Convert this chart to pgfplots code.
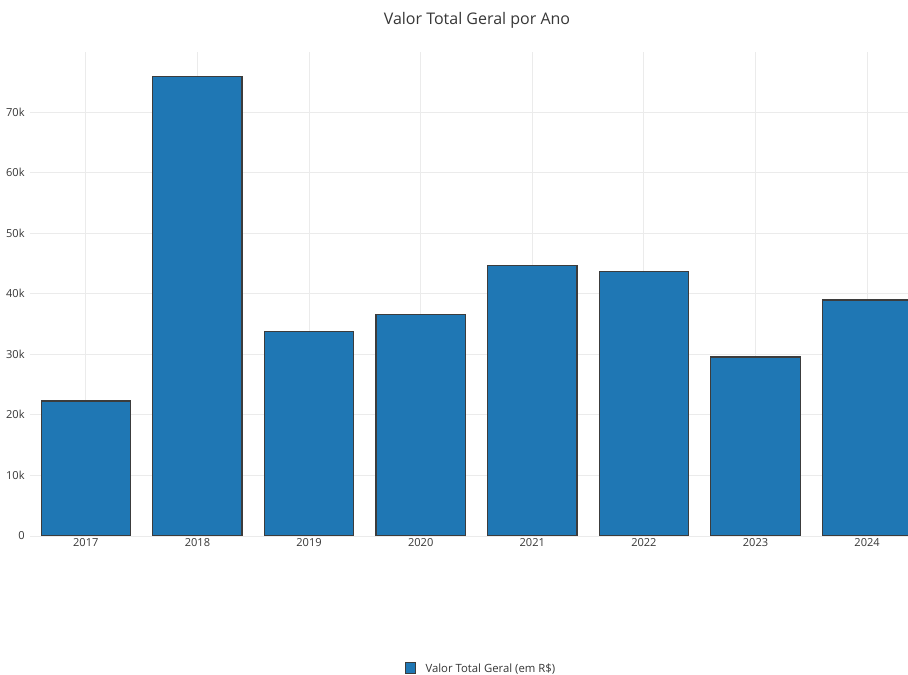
\documentclass[border=0pt]{standalone}
\usepackage{pgfplots}
\pgfplotsset{compat=1.18}
\usepackage{fontspec}
\setmainfont{Open Sans}
\definecolor{plotblue}{RGB}{31,119,180}
\definecolor{edgegray}{RGB}{60,60,60}
\definecolor{gridgray}{RGB}{235,235,235}
\definecolor{txt}{RGB}{55,55,55}
\begin{document}
\begin{tikzpicture}[x=0.75pt,y=0.75pt]
\fill[white] (0,0) rectangle (908,675);
\node[font=\fontsize{12}{14}\selectfont, text=txt] at (477,655) {Valor Total Geral por Ano};
\begin{axis}[
  at={(22.5pt,104.25pt)}, anchor=south west,
  scale only axis,
  width=658.5pt, height=363pt,
  xmin=-0.5, xmax=7.366,
  ymin=0, ymax=79900,
  xtick={0,1,2,3,4,5,6,7},
  xticklabels={2017,2018,2019,2020,2021,2022,2023,2024},
  ytick={0,10000,20000,30000,40000,50000,60000,70000},
  yticklabels={0,10k,20k,30k,40k,50k,60k,70k},
  scaled y ticks=false,
  /pgf/number format/assume math mode=true,
  axis line style={draw=none},
  major tick length=0pt,
  grid=major,
  major grid style={gridgray, line width=0.7pt},
  tick label style={font=\fontsize{8.3}{9}\selectfont, text=txt},
  yticklabel style={xshift=-0.5pt},
  xticklabel style={yshift=1.5pt},
  legend style={at={(0.514,-0.275)}, anchor=center, draw=none, fill=none,
    font=\fontsize{8.5}{10}\selectfont, text=txt},
  legend image code/.code={\draw[fill=plotblue, draw=edgegray, line width=0.6pt] (-1pt,-3pt) rectangle (7pt,5pt);},
]
\addplot[ybar, bar width=0.8, fill=plotblue, draw=edgegray, line width=0.9pt]
  coordinates {(0,22300) (1,75900) (2,33700) (3,36500) (4,44600) (5,43600) (6,29550) (7,38950)};
\addlegendentry{\hspace{5pt}Valor Total Geral (em R\$)}
\end{axis}
\pgfresetboundingbox
\path[use as bounding box] (0,0) rectangle (908,675);
\end{tikzpicture}
\end{document}
